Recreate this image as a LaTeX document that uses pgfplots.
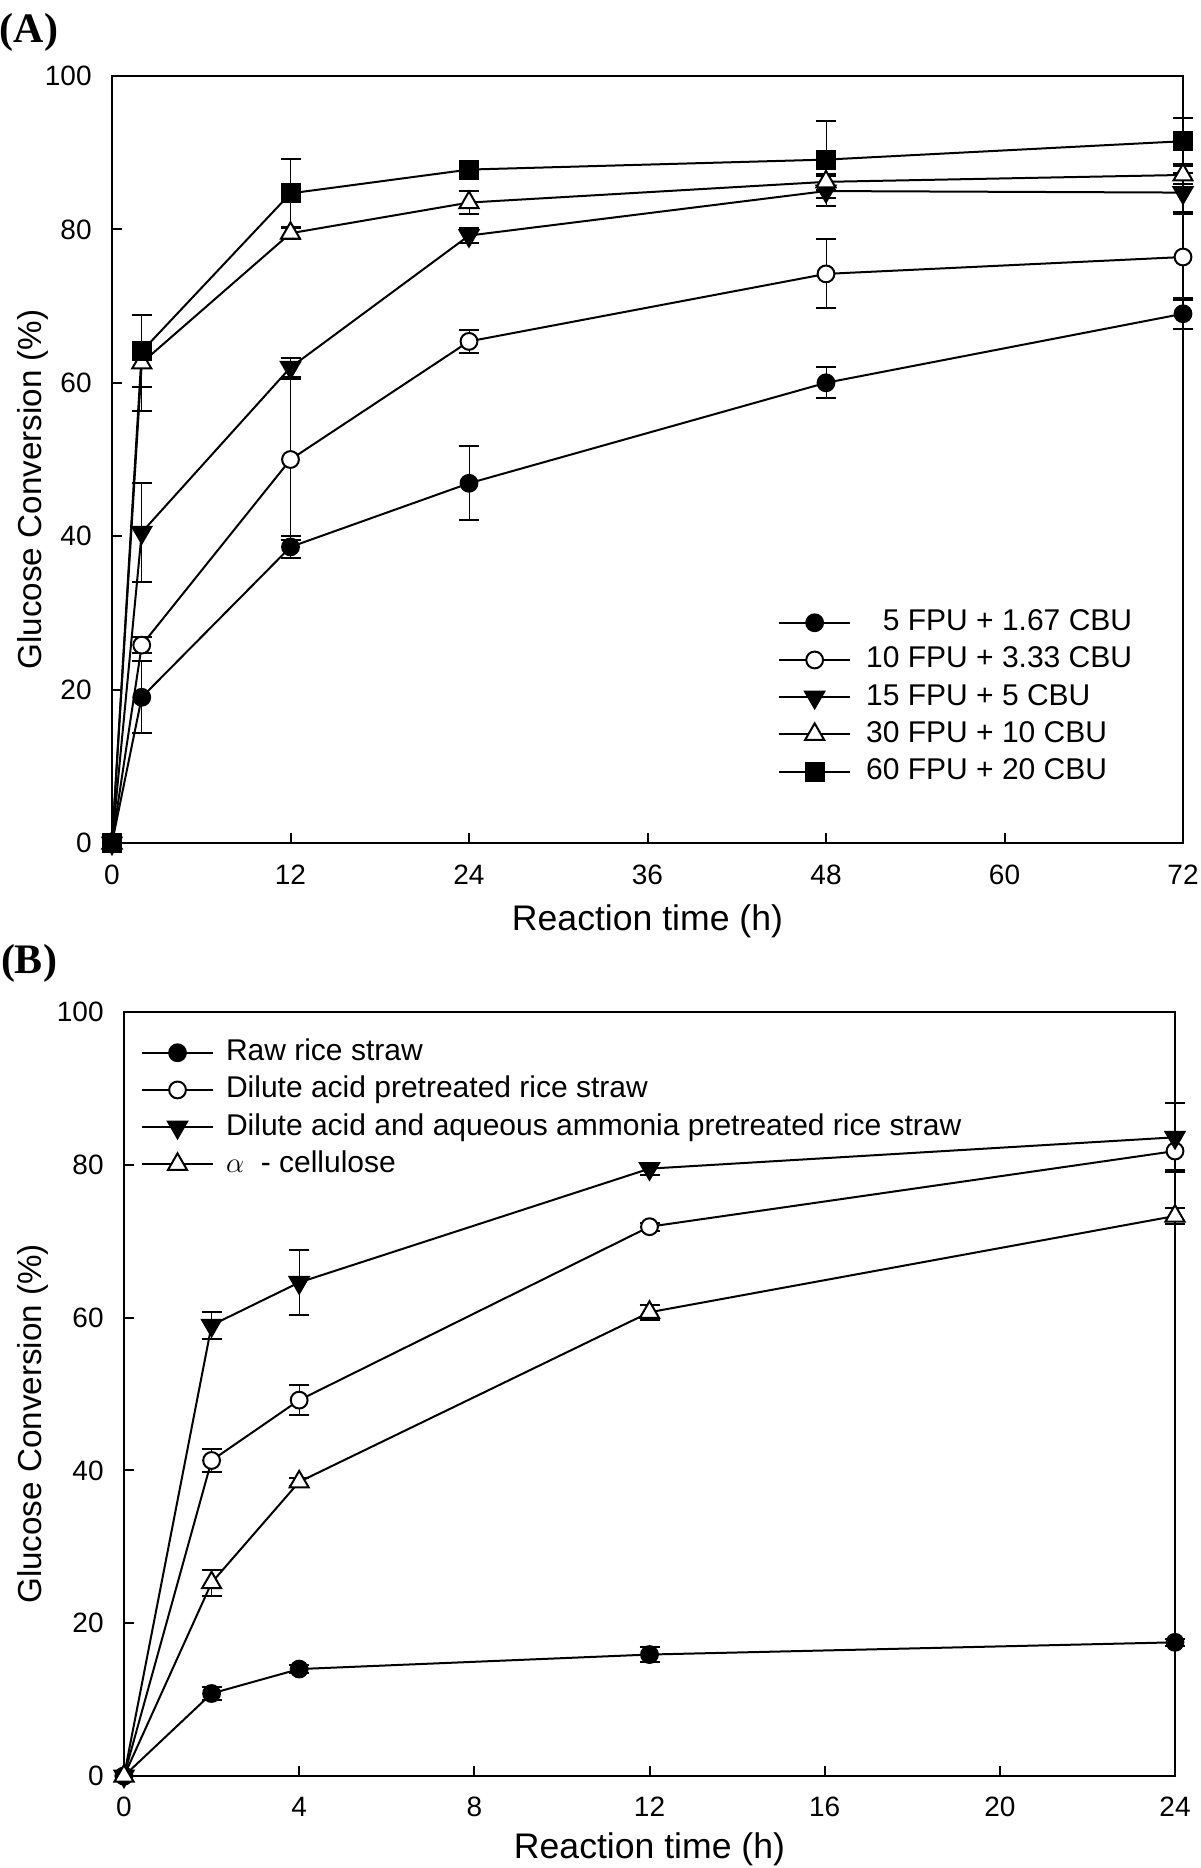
\documentclass[border=0pt]{standalone}
\usepackage{fontspec}
\setmainfont{Liberation Sans}
\newfontfamily\serifbold{Liberation Serif}
\usepackage{pgfplots}
\pgfplotsset{compat=1.18}
\pgfplotsset{
 common/.style={
  scale only axis, clip=false,
  /pgf/number format/assume math mode=true,
  xtick pos=bottom, ytick pos=left, tick align=inside, major tick length=5pt,
  axis line style={line width=1pt},
  every tick/.style={line width=1pt, black},
  ymin=0, ymax=100, ytick={0,20,...,100},
  tick label style={font=\fontsize{14}{14}\selectfont},
  yticklabel style={anchor=east, inner sep=0pt, xshift=-10pt},
  xlabel style={font=\fontsize{17.8}{18}\selectfont},
  ylabel style={font=\fontsize{16.6}{18}\selectfont},
  ylabel={Glucose Conversion (\%)},
  xlabel={Reaction time (h)},
  legend cell align=left,
  legend style={draw=none, fill=none, font=\fontsize{15}{18}\selectfont,
    inner sep=0pt, outer sep=0pt, row sep=4.6pt,
    nodes={inner sep=0pt, text height=11pt, text depth=3pt}},
  legend image code/.code={\draw[mark repeat=2,mark phase=2] plot coordinates {(0pt,0pt) (17.75pt,0pt) (35.5pt,0pt)};},
  every axis plot/.append style={line width=1pt, black},
  error bars/error mark options={rotate=90, mark size=5pt, line width=1pt, black},
 },
 sA/.style={mark=*, mark size=4.2pt, mark options={solid, fill=black}},
 sB/.style={mark=*, mark size=4.2pt, mark options={solid, fill=white}},
 sC/.style={mark=triangle*, mark size=5.5pt, mark options={solid, fill=black, rotate=180}},
 sD/.style={mark=triangle*, mark size=5.5pt, mark options={solid, fill=white}},
 sE/.style={mark=square*, mark size=4.5pt, mark options={solid, fill=black}},
}
\begin{document}
\begin{tikzpicture}
\path[use as bounding box] (0pt,0pt) rectangle (600pt,-934pt);
\node[font=\serifbold\bfseries\fontsize{21}{21}\selectfont] at (14.5pt,-16pt) {(A)};
\node[font=\serifbold\bfseries\fontsize{21}{21}\selectfont] at (14.5pt,-481.5pt) {(B)};

\begin{axis}[common,
  at={(56pt,-421.5pt)}, anchor=south west,
  width=535.5pt, height=383.5pt,
  xmin=0, xmax=72, xtick={0,12,...,72},
  xticklabel style={anchor=center, yshift=-16pt},
  xlabel style={at={(axis description cs:0.5,-0.1025)}, anchor=center},
  ylabel style={at={(axis description cs:-0.0738,0.461)}, anchor=center},
  legend style={at={(0.622,0.3054)}, anchor=north west, column sep=7.5pt},
]
\addplot[sA, error bars/.cd, y dir=both, y explicit] coordinates {
 (0,0) (2,19.0) +- (0,4.7) (12,38.6) +- (0,1.4) (24,46.9) +- (0,4.8) (48,60.0) +- (0,2.0) (72,69.0) +- (0,2.0)};
\addlegendentry{\phantom{1}5 FPU + 1.67 CBU}
\addplot[sB, error bars/.cd, y dir=both, y explicit] coordinates {
 (0,0) (2,25.8) +- (0,1.0) (12,50.0) +- (0,10.5) (24,65.4) +- (0,1.5) (48,74.2) +- (0,4.5) (72,76.4) +- (0,5.6)};
\addlegendentry{10 FPU + 3.33 CBU}
\addplot[sC, error bars/.cd, y dir=both, y explicit] coordinates {
 (0,0) (2,40.5) +- (0,6.5) (12,62.0) +- (0,1.2) (24,79.2) +- (0,1.0) (48,85.0) +- (0,2.0) (72,84.8) +- (0,2.5)};
\addlegendentry{15 FPU + 5 CBU}
\addplot[sD, error bars/.cd, y dir=both, y explicit] coordinates {
 (0,0) (2,62.6) +- (0,6.3) (12,79.5) +- (0,0.8) (24,83.5) +- (0,1.5) (48,86.2) +- (0,1.0) (72,87.1) +- (0,1.2)};
\addlegendentry{30 FPU + 10 CBU}
\addplot[sE, error bars/.cd, y dir=both, y explicit] coordinates {
 (0,0) (2,64.1) +- (0,4.7) (12,84.7) +- (0,4.5) (24,87.8) +- (0,0.8) (48,89.1) +- (0,5.0) (72,91.5) +- (0,3.0)};
\addlegendentry{60 FPU + 20 CBU}
\end{axis}

\begin{axis}[common,
  at={(62pt,-888pt)}, anchor=south west,
  width=525.5pt, height=382pt,
  xmin=0, xmax=24, xtick={0,4,...,24},
  xticklabel style={anchor=center, yshift=-15.5pt},
  xlabel style={at={(axis description cs:0.5,-0.0955)}, anchor=center},
  ylabel style={at={(axis description cs:-0.0866,0.461)}, anchor=center},
  legend style={at={(0.0162,0.965)}, anchor=north west, column sep=6pt},
]
\addplot[sA, error bars/.cd, y dir=both, y explicit] coordinates {
 (0,0) (2,10.8) +- (0,0.8) (4,14.0) +- (0,0.5) (12,15.9) +- (0,1.0) (24,17.5) +- (0,0.5)};
\addlegendentry{Raw rice straw}
\addplot[sB, error bars/.cd, y dir=both, y explicit] coordinates {
 (0,0) (2,41.3) +- (0,1.5) (4,49.2) +- (0,2.0) (12,71.9) +- (0,0.5) (24,81.8) +- (0,2.5)};
\addlegendentry{Dilute acid pretreated rice straw}
\addplot[sC, error bars/.cd, y dir=both, y explicit] coordinates {
 (0,0) (2,59.0) +- (0,1.8) (4,64.6) +- (0,4.2) (12,79.5) +- (0,0.8) (24,83.6) +- (0,4.5)};
\addlegendentry{Dilute acid and aqueous ammonia pretreated rice straw}
\addplot[sD, error bars/.cd, y dir=both, y explicit] coordinates {
 (0,0) (2,25.3) +- (0,1.7) (4,38.5) +- (0,0.5) (12,60.7) +- (0,1.0) (24,73.3) +- (0,1.0)};
\addlegendentry{$\alpha$\ \ - cellulose}
\end{axis}
\end{tikzpicture}
\end{document}
